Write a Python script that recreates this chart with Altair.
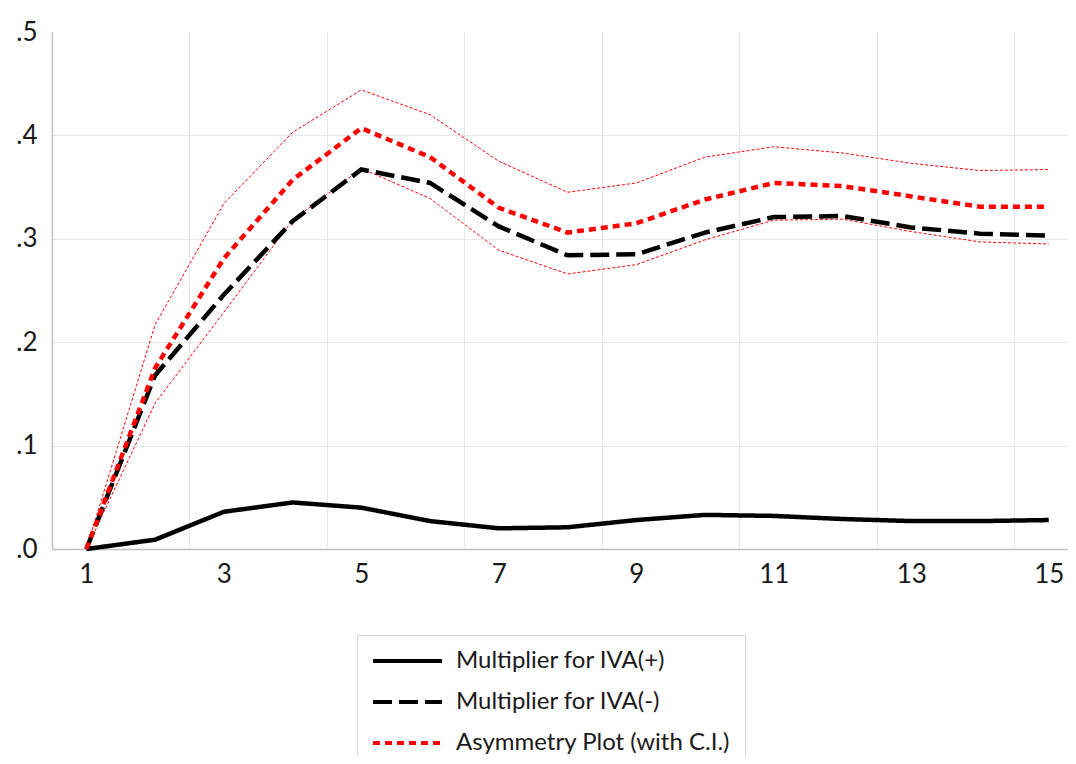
import altair as alt
import pandas as pd

# ---- data ----
periods = list(range(1, 16))
iva_pos = [0.000, 0.009, 0.036, 0.045, 0.040, 0.027, 0.020, 0.021, 0.028, 0.033, 0.032, 0.029, 0.027, 0.027, 0.028]
iva_neg = [0.000, 0.168, 0.246, 0.317, 0.367, 0.354, 0.312, 0.284, 0.285, 0.306, 0.321, 0.322, 0.311, 0.305, 0.303]
asym = [0.000, 0.175, 0.281, 0.357, 0.407, 0.379, 0.330, 0.306, 0.315, 0.338, 0.354, 0.351, 0.341, 0.331, 0.331]
ci_upper = [0.000, 0.217, 0.334, 0.403, 0.444, 0.420, 0.375, 0.345, 0.354, 0.379, 0.389, 0.383, 0.373, 0.366, 0.367]
ci_lower = [0.000, 0.141, 0.229, 0.318, 0.368, 0.339, 0.289, 0.266, 0.275, 0.299, 0.318, 0.319, 0.307, 0.297, 0.295]

series_names = ["Multiplier for IVA(+)", "Multiplier for IVA(-)", "Asymmetry Plot (with C.I.)"]
series_colors = ["black", "black", "#ff0000"]
series_dashes = [[1, 0], [19, 7], [7, 5]]

x_label_ticks = [1, 3, 5, 7, 9, 11, 13, 15]
x_grid_ticks = [0.5, 2.5, 4.5, 6.5, 8.5, 10.5, 12.5, 14.5]
y_ticks = [0.0, 0.1, 0.2, 0.3, 0.4, 0.5]

df_main = pd.DataFrame({
    "period": periods * 3,
    "value": iva_pos + iva_neg + asym,
    "series": [series_names[0]] * 15 + [series_names[1]] * 15 + [series_names[2]] * 15,
})
df_ci = pd.DataFrame({
    "period": periods * 2,
    "value": ci_upper + ci_lower,
    "bound": ["upper"] * 15 + ["lower"] * 15,
})

x_enc = alt.X(
    "period:Q",
    scale=alt.Scale(domain=[0.5, 15.28], nice=False, zero=False),
    axis=alt.Axis(
        values=sorted(x_label_ticks + x_grid_ticks),
        labelExpr="datum.value % 1 == 0 ? format(datum.value, 'd') : ''",
        gridOpacity={"condition": {"test": "datum.value % 1 != 0", "value": 1}, "value": 0},
        grid=True,
        ticks=False,
        title=None,
        labelFlush=False,
        labelOverlap=False,
        labelPadding=12,
    ),
)
y_enc = alt.Y(
    "value:Q",
    scale=alt.Scale(domain=[0, 0.5], nice=False),
    axis=alt.Axis(
        values=y_ticks,
        labelExpr="'.' + format(round(datum.value * 10), 'd')",
        gridOpacity={"condition": {"test": "datum.value > 0.05 && datum.value < 0.45", "value": 1}, "value": 0},
        grid=True,
        ticks=False,
        title=None,
        labelFlush=False,
        labelPadding=15,
    ),
)

ci = alt.Chart(df_ci).mark_line(color="#ff0000", strokeWidth=1, strokeDash=[3, 2]).encode(
    x=x_enc, y=y_enc, detail="bound:N"
)

main = alt.Chart(df_main).mark_line(strokeWidth=4.5, strokeCap="butt").encode(
    x=x_enc,
    y=y_enc,
    color=alt.Color("series:N", scale=alt.Scale(domain=series_names, range=series_colors),
                    legend=alt.Legend(title=None)),
    strokeDash=alt.StrokeDash("series:N", scale=alt.Scale(domain=series_names, range=series_dashes),
                              legend=alt.Legend(title=None)),
)

chart = (
    alt.layer(ci, main)
    .properties(
        width=1016,
        height=517,
        padding={"left": 44, "top": 24, "right": 0, "bottom": 207},
        autosize=alt.AutoSizeParams(type="none"),
    )
    .configure(font="Lato")
    .configure_view(strokeWidth=0)
    .configure_axis(
        labelFont="Lato",
        labelFontSize=26,
        labelColor="#1a1a1a",
        domainColor="#c0c0c0",
        domainWidth=1.5,
        gridColor="#e8e8e8",
        gridWidth=1,
    )
    .configure_legend(
        orient="none",
        legendX=305,
        legendY=603,
        direction="vertical",
        strokeColor="#d9d9d9",
        fillColor="white",
        padding=14,
        symbolType="stroke",
        symbolSize=4761,
        symbolStrokeWidth=4,
        clipHeight=24,
        rowPadding=17,
        labelFont="Lato",
        labelFontSize=24,
        labelColor="#1a1a1a",
        labelOffset=12,
        labelLimit=0,
    )
)

chart.save("out.html", embed_options={"renderer": "svg", "actions": False})
